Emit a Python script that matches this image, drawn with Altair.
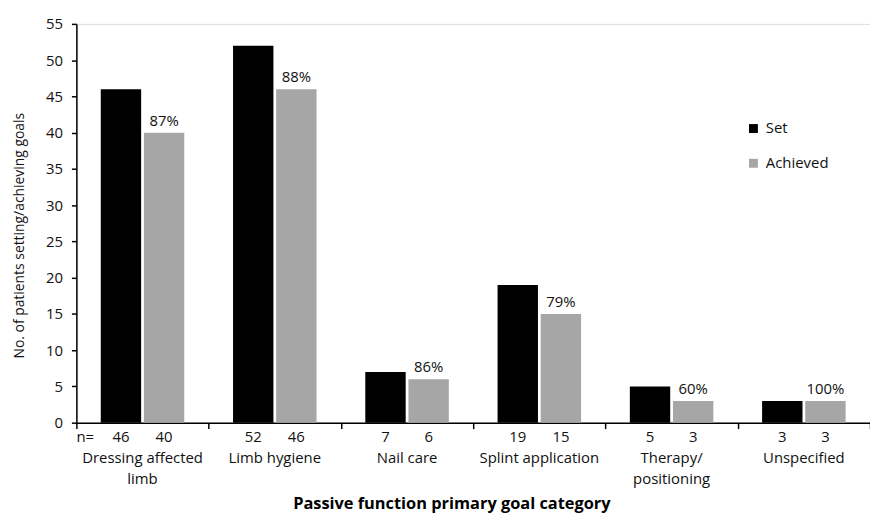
import altair as alt
import pandas as pd

# Goal categories and their two-line axis labels
categories = ["Dressing affected limb", "Limb hygiene", "Nail care",
              "Splint application", "Therapy/positioning", "Unspecified"]
category_lines = ["Dressing affected\nlimb", "Limb hygiene", "Nail care",
                  "Splint application", "Therapy/\npositioning", "Unspecified"]

# Number of patients setting / achieving each goal
goals_set = [46, 52, 7, 19, 5, 3]
goals_achieved = [40, 46, 6, 15, 3, 3]
pct_achieved = ["87%", "88%", "86%", "79%", "60%", "100%"]

series = ["Set", "Achieved"]
series_colors = ["#000000", "#A6A6A6"]
y_ticks = [0, 5, 10, 15, 20, 25, 30, 35, 40, 45, 50, 55]

rows = []
for cat, s, a, p in zip(categories, goals_set, goals_achieved, pct_achieved):
    rows.append({"category": cat, "series": "Set", "value": s, "pct": ""})
    rows.append({"category": cat, "series": "Achieved", "value": a, "pct": p})
df = pd.DataFrame(rows)
cat_df = pd.DataFrame({"category": categories, "label": category_lines})

W, H = 800, 402
FONT = "Open Sans"
FS = 15
TXT = "#111111"

x_enc = alt.X(
    "category:N", sort=categories,
    scale=alt.Scale(paddingInner=0, paddingOuter=0),
    axis=alt.Axis(
        labels=False, title="Passive function primary goal category",
        tickBand="extent", tickSize=6, tickWidth=1.5, domainWidth=1.5,
        domainColor="black", tickColor="black",
        titleX=378, titleY=82, titleAlign="center", titleBaseline="middle",
        titleFont=FONT, titleFontSize=16.5, titleFontWeight="bold", titleColor="black",
    ),
)
xo_enc = alt.XOffset("series:N", sort=series,
                     scale=alt.Scale(paddingInner=0.064, paddingOuter=0.565))

y_enc = alt.Y(
    "value:Q",
    scale=alt.Scale(domain=[0, 55], nice=False),
    axis=alt.Axis(
        values=y_ticks, grid=False, tickSize=5, tickWidth=1.5, domainWidth=1.5,
        domainColor="black", tickColor="black", labelOverlap=False,
        labelFont=FONT, labelFontSize=FS, labelColor=TXT, labelPadding=9,
        title="No. of patients setting/achieving goals",
        titleFont=FONT, titleFontSize=14, titleFontWeight="normal", titleColor=TXT,
        titleX=-57, titleY=213, titleAlign="center", titleBaseline="middle",
    ),
)

base = alt.Chart(df)

bars = base.mark_bar().encode(
    x=x_enc,
    xOffset=xo_enc,
    y=y_enc,
    color=alt.Color(
        "series:N", sort=series,
        scale=alt.Scale(domain=series, range=series_colors),
        legend=alt.Legend(
            title=None, orient="none", legendX=675, legendY=98,
            symbolType="square", symbolSize=81, symbolStrokeWidth=0,
            labelFont=FONT, labelFontSize=FS, labelColor=TXT,
            labelOffset=5, rowPadding=19, padding=0,
        ),
    ),
)

pct_text = base.mark_text(baseline="bottom", dy=-4, font=FONT, fontSize=FS, color=TXT).encode(
    x=x_enc, xOffset=xo_enc, y=y_enc, text="pct:N"
)

n_text = base.mark_text(baseline="middle", font=FONT, fontSize=FS, color=TXT).encode(
    x=x_enc, xOffset=xo_enc, y=alt.value(H + 14), text="value:Q"
)

n_eq = alt.Chart(pd.DataFrame({"t": ["n="]})).mark_text(
    baseline="middle", font=FONT, fontSize=FS, color=TXT
).encode(x=alt.value(9), y=alt.value(H + 14), text="t:N")

cat_text = alt.Chart(cat_df).mark_text(
    baseline="alphabetic", lineBreak="\n", lineHeight=21, font=FONT, fontSize=FS, color=TXT
).encode(x=x_enc, y=alt.value(H + 41), text="label:N")

chart = alt.layer(bars, pct_text, n_text, n_eq, cat_text).properties(
    width=W, height=H,
    autosize=alt.AutoSizeParams(type="none"),
    padding={"left": 77, "top": 22, "right": 0, "bottom": 91},
).configure_view(stroke=None).configure(background="white")

chart.save("out.html", embed_options={"renderer": "svg", "actions": False})
